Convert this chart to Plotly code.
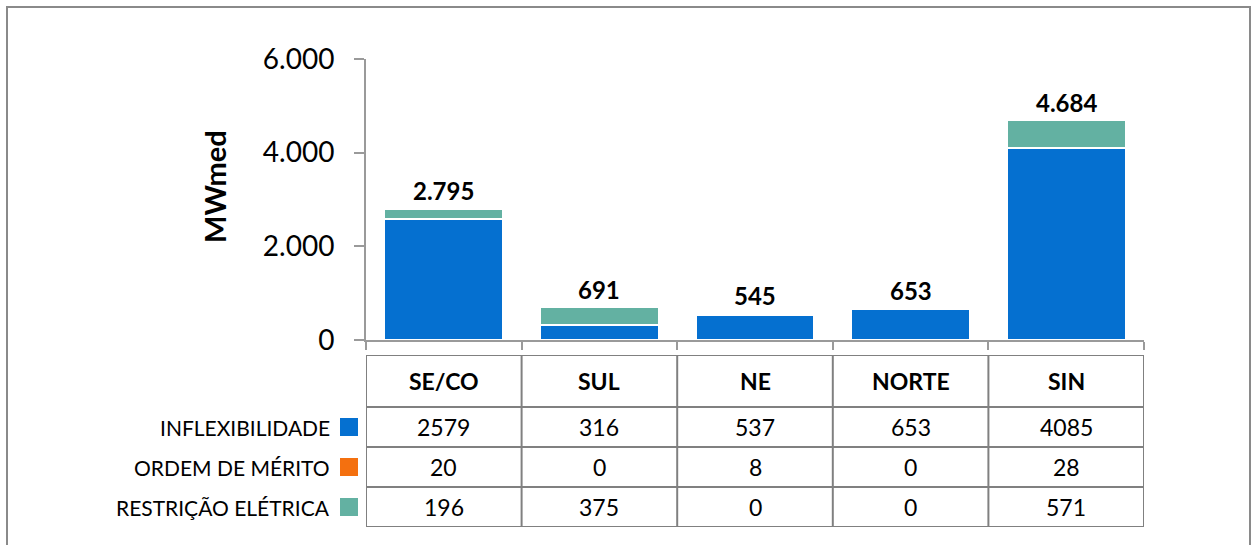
import plotly.graph_objects as go

categories = ["SE/CO", "SUL", "NE", "NORTE", "SIN"]
series_names = ["INFLEXIBILIDADE", "ORDEM DE MÉRITO", "RESTRIÇÃO ELÉTRICA"]
inflex = [2579, 316, 537, 653, 4085]
merito = [20, 0, 8, 0, 28]
restricao = [196, 375, 0, 0, 571]
y_ticks = [0, 2000, 4000, 6000]

colors = ["#0570D0", "#F4700F", "#63B1A2"]
series_vals = [inflex, merito, restricao]
totals = [a + b + c for a, b, c in zip(inflex, merito, restricao)]

W, H = 1260, 545
def px(x):
    return x / W
def py(y):
    return 1 - y / H

FONT = "Lato"
GRID = "#808080"

fig = go.Figure()
for name, vals, col in zip(series_names, series_vals, colors):
    fig.add_trace(go.Bar(
        x=categories, y=vals, name=name,
        marker=dict(color=col, line=dict(color="white", width=1.5)),
        width=0.76, showlegend=False, hoverinfo="skip",
    ))

# helper trace so the table axis exists
fig.add_trace(go.Scatter(x=categories, y=[None]*5, xaxis="x", yaxis="y2",
                         showlegend=False, hoverinfo="skip", mode="markers"))

def fmt(v):
    return f"{v:,}".replace(",", ".")

annotations = []
for c, t in zip(categories, totals):
    annotations.append(dict(x=c, y=t, xref="x", yref="y", text=f"<b>{fmt(t)}</b>",
                            showarrow=False, yanchor="bottom", yshift=2,
                            font=dict(family=FONT, size=24, color="black")))

# table (y2 axis: 0 = table top, 172 = table bottom)
row_edges = [0, 52, 92, 132, 172]
row_centers = [(row_edges[i] + row_edges[i + 1]) / 2 for i in range(4)]
shapes = []
for e in row_edges:
    shapes.append(dict(type="line", xref="x", yref="y2", x0=-0.5, x1=4.5, y0=e, y1=e,
                       line=dict(color=GRID, width=2)))
for i in range(len(categories) + 1):
    shapes.append(dict(type="line", xref="x", yref="y2", x0=i - 0.5, x1=i - 0.5,
                       y0=0, y1=172, line=dict(color=GRID, width=2)))

for i, c in enumerate(categories):
    annotations.append(dict(x=c, y=row_centers[0], xref="x", yref="y2", text=f"<b>{c}</b>",
                            showarrow=False, font=dict(family=FONT, size=23, color="black")))
    for r, vals in enumerate(series_vals):
        annotations.append(dict(x=c, y=row_centers[r + 1], xref="x", yref="y2",
                                text=str(vals[i]), showarrow=False,
                                font=dict(family=FONT, size=23, color="black")))

for r, (name, col) in enumerate(zip(series_names, colors)):
    yc = row_centers[r + 1]
    annotations.append(dict(x=px(332), y=yc, xref="paper", yref="y2", text=name,
                            showarrow=False, xanchor="right",
                            font=dict(family=FONT, size=21, color="black")))
    shapes.append(dict(type="rect", xref="paper", yref="y2", x0=px(340), x1=px(358),
                       y0=yc - 9, y1=yc + 9, fillcolor=col, line=dict(width=0)))

annotations.append(dict(x=px(214), y=py(187), xref="paper", yref="paper", text="<b>MWmed</b>",
                        textangle=-90, showarrow=False, xanchor="center", yanchor="middle",
                        font=dict(family=FONT, size=29, color="black")))

# outer border
shapes.append(dict(type="rect", xref="paper", yref="paper", x0=px(7), x1=px(1250),
                   y0=-0.05, y1=py(7), line=dict(color="#8a8a8a", width=2)))

fig.update_layout(
    template="none",
    width=W, height=H,
    margin=dict(l=0, r=0, t=0, b=0, pad=0, autoexpand=False),
    paper_bgcolor="white", plot_bgcolor="white",
    barmode="stack", bargap=0.24,
    separators=",.",
    showlegend=False,
    xaxis=dict(domain=[px(366), px(1144)], range=[-0.5, 4.5], showticklabels=False,
               showline=True, linecolor="#9a9a9a", linewidth=2, automargin=False,
               ticks="outside", tickson="boundaries", ticklen=8, tickwidth=2,
               tickcolor="#9a9a9a", showgrid=False, zeroline=False, anchor="y"),
    yaxis=dict(domain=[py(340), py(59)], range=[0, 6000], tickvals=y_ticks,
               tickformat=",d", showline=True, linecolor="#9a9a9a", linewidth=2,
               ticks="outside", ticklen=10, tickwidth=2, tickcolor="#9a9a9a",
               showgrid=False, zeroline=False, ticklabelstandoff=14, automargin=False,
               tickfont=dict(family=FONT, size=28, color="black")),
    yaxis2=dict(domain=[py(527), py(355)], range=[172, 0], visible=False,
                anchor="x", showgrid=False, zeroline=False, automargin=False),
    shapes=shapes,
    annotations=annotations,
)

fig.write_html("out.html", config={"displayModeBar": False},
               post_script="document.body.style.margin='0px';")
